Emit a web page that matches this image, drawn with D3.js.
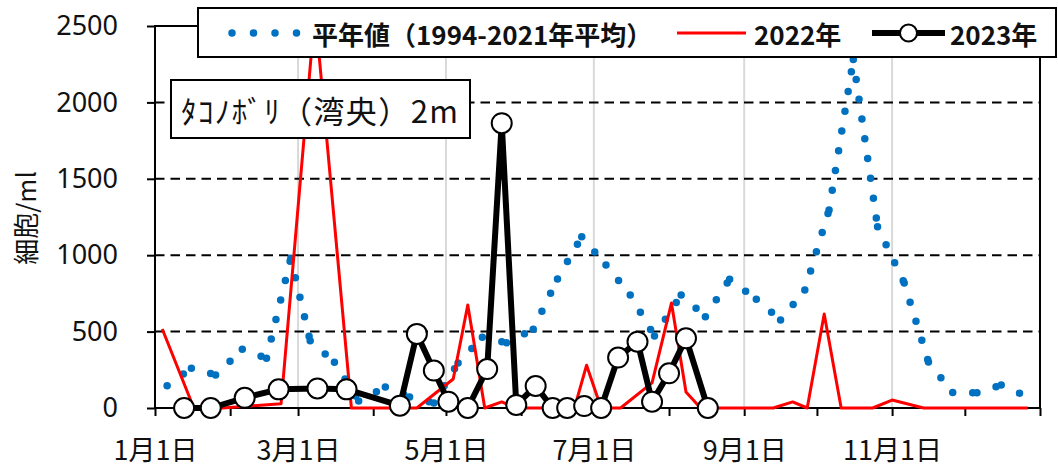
<!DOCTYPE html>
<html>
<head>
<meta charset="utf-8">
<script src="https://cdn.jsdelivr.net/npm/d3@7"></script>
<style>
  body { margin: 0; background: #fff; }
  text { font-family: "Noto Sans CJK JP", "Noto Sans", sans-serif; fill: #111; }
</style>
</head>
<body>
<div id="container"></div>
<script>
// 平年値 (1994-2021) - 旬ごとの平均
let meanDates = ["1/6","1/16","1/26","2/6","2/16","2/26","3/6","3/16","3/26","4/6","4/16","4/26",
                 "5/6","5/16","5/26","6/6","6/16","6/26","7/6","7/16","7/26","8/6","8/16","8/26",
                 "9/6","9/16","9/26","10/6","10/16","10/26","11/6","11/16","11/26","12/6","12/16","12/26"];
let meanValues = [146,260,216,384,325,980,440,300,46,137,72,33,
                  295,463,427,515,845,1121,936,740,471,740,598,842,
                  711,576,772,1296,2280,1187,818,301,101,100,150,80];

// 2022年
let dates2022 = ["1/4","1/17","1/29","2/22","3/8","3/23","4/19","5/4","5/10","5/17","5/24","5/30",
                 "6/23","6/28","7/4","7/12","7/25","8/2","8/8","8/14","9/13","9/21","9/27",
                 "10/4","10/11","10/24","11/1","11/14","12/27"];
let values2022 = [517,0,0,28,2600,0,0,190,674,0,40,0,
                  0,280,0,0,164,687,105,0,0,40,0,
                  615,0,0,52,0,0];

// 2023年
let dates2023 = ["1/13","1/24","2/7","2/21","3/9","3/21","4/12","4/19","4/26","5/2","5/10","5/18",
                 "5/24","5/30","6/7","6/14","6/20","6/27","7/4","7/11","7/19","7/25","8/1","8/8","8/17"];
let values2023 = [0,0,67,122,128,122,15,485,245,41,0,255,
                  1864,20,144,0,0,13,0,330,434,41,227,456,0];

let yTicks = [0,500,1000,1500,2000,2500];

let parse = d3.timeParse("%Y/%m/%d");
let toDate = s => parse("2023/" + s);

let meanData = meanDates.map((d,i) => ({date: toDate(d), value: meanValues[i]}));
let data2022 = dates2022.map((d,i) => ({date: toDate(d), value: values2022[i]}));
let data2023 = dates2023.map((d,i) => ({date: toDate(d), value: values2023[i]}));

let svg = d3.select('#container')
            .append('svg')
            .attr("width", 1058)
            .attr("height", 469);

let plotL = 155, plotR = 1040, plotT = 26, plotB = 408;

let x = d3.scaleTime()
          .domain([new Date(2023,0,1), new Date(2024,0,1)])
          .range([plotL, plotR]);
let y = d3.scaleLinear()
          .domain([0, 2500])
          .range([plotB, plotT]);

svg.append("clipPath").attr("id", "plotClip")
   .append("rect")
   .attr("x", plotL).attr("y", plotT)
   .attr("width", plotR - plotL).attr("height", plotB - plotT + 12);

// vertical grid (labelled months)
let monthTicks = d3.timeMonth.range(new Date(2023,0,1), new Date(2024,0,2));
svg.selectAll(".vgrid")
   .data(monthTicks.filter(d => d.getFullYear() === 2023 && d.getMonth() % 2 === 0 && d.getMonth() > 0))
   .enter()
   .append("line")
   .attr("x1", d => x(d)).attr("x2", d => x(d))
   .attr("y1", plotT).attr("y2", plotB)
   .attr("stroke", "#d9d9d9")
   .attr("stroke-width", 2);

// horizontal dashed grid
svg.selectAll(".hgrid")
   .data(yTicks.filter(v => v > 0 && v < 2500))
   .enter()
   .append("line")
   .attr("x1", plotL).attr("x2", plotR)
   .attr("y1", d => y(d)).attr("y2", d => y(d))
   .attr("stroke", "#000")
   .attr("stroke-width", 2)
   .attr("stroke-dasharray", "9.5 6");

// axes
let yAxis = svg.append("g")
   .attr("transform", `translate(${plotL},0)`)
   .call(d3.axisLeft(y).tickValues(yTicks).tickSize(8).tickPadding(29).tickFormat(d3.format("d")));
yAxis.select(".domain").remove();
yAxis.selectAll("line").attr("stroke", "#000").attr("stroke-width", 2);
yAxis.selectAll("text").attr("font-size", 27).attr("fill", "#111")
     .style("font-family", "'Noto Sans', sans-serif");

let xAxis = svg.append("g")
   .attr("transform", `translate(0,${plotB})`)
   .call(d3.axisBottom(x)
          .tickValues(monthTicks)
          .tickSize(8)
          .tickFormat(d => (d.getFullYear() === 2023 && d.getMonth() % 2 === 0) ? (d.getMonth() + 1) + "月1日" : ""));
xAxis.select(".domain").remove();
xAxis.selectAll("line").attr("stroke", "#000").attr("stroke-width", 2);
xAxis.selectAll("text").attr("font-size", 27).attr("fill", "#111")
     .attr("y", 43).attr("dy", "0.35em");

// plot border
svg.append("rect")
   .attr("x", plotL).attr("y", plotT)
   .attr("width", plotR - plotL).attr("height", plotB - plotT)
   .attr("fill", "none")
   .attr("stroke", "#000")
   .attr("stroke-width", 2);

// y title
svg.append("text")
   .attr("transform", "translate(24,218) rotate(-90)")
   .attr("text-anchor", "middle")
   .attr("dominant-baseline", "central")
   .attr("font-size", 26)
   .attr("fill", "#333")
   .text("細胞/ml");

let line = d3.line().x(d => x(d.date)).y(d => y(d.value));

// 平年値 dotted, each segment restarts its dot pattern
let plot = svg.append("g").attr("clip-path", "url(#plotClip)");
plot.selectAll(".meanSeg")
    .data(d3.pairs(meanData))
    .enter()
    .append("path")
    .attr("d", d => line(d))
    .attr("fill", "none")
    .attr("stroke", "#0070c0")
    .attr("stroke-width", 7.5)
    .attr("stroke-linecap", "round")
    .attr("stroke-dasharray", "0 20");

// 2022
plot.append("path")
    .datum(data2022)
    .attr("d", line)
    .attr("fill", "none")
    .attr("stroke", "#ff0000")
    .attr("stroke-width", 3)
    .attr("stroke-linejoin", "round");

// 2023
plot.append("path")
    .datum(data2023)
    .attr("d", line)
    .attr("fill", "none")
    .attr("stroke", "#000")
    .attr("stroke-width", 6)
    .attr("stroke-linejoin", "round");

svg.selectAll(".m2023")
   .data(data2023)
   .enter()
   .append("circle")
   .attr("cx", d => x(d.date))
   .attr("cy", d => y(d.value))
   .attr("r", 10)
   .attr("fill", "#fff")
   .attr("stroke", "#000")
   .attr("stroke-width", 2);

// legend
let legend = svg.append("g");
legend.append("rect")
      .attr("x", 198).attr("y", 8)
      .attr("width", 858).attr("height", 49)
      .attr("fill", "#fff")
      .attr("stroke", "#000")
      .attr("stroke-width", 2);
legend.append("line")
      .attr("x1", 232).attr("x2", 298)
      .attr("y1", 33).attr("y2", 33)
      .attr("stroke", "#0070c0")
      .attr("stroke-width", 7.5)
      .attr("stroke-linecap", "round")
      .attr("stroke-dasharray", "0 21.5");
legend.append("text")
      .attr("x", 312).attr("y", 33)
      .attr("dominant-baseline", "central")
      .attr("font-size", 26).attr("font-weight", "bold")
      .text("平年値（1994-2021年平均）");
legend.append("line")
      .attr("x1", 677).attr("x2", 746)
      .attr("y1", 33).attr("y2", 33)
      .attr("stroke", "#ff0000")
      .attr("stroke-width", 3);
legend.append("text")
      .attr("x", 754).attr("y", 33)
      .attr("dominant-baseline", "central")
      .attr("font-size", 26).attr("font-weight", "bold")
      .text("2022年");
legend.append("line")
      .attr("x1", 872).attr("x2", 945)
      .attr("y1", 33).attr("y2", 33)
      .attr("stroke", "#000")
      .attr("stroke-width", 6);
legend.append("circle")
      .attr("cx", 908.5).attr("cy", 33)
      .attr("r", 8.5)
      .attr("fill", "#fff")
      .attr("stroke", "#000")
      .attr("stroke-width", 2);
legend.append("text")
      .attr("x", 950).attr("y", 33)
      .attr("dominant-baseline", "central")
      .attr("font-size", 26).attr("font-weight", "bold")
      .text("2023年");

// station box
svg.append("rect")
   .attr("x", 171).attr("y", 80)
   .attr("width", 299).attr("height", 58)
   .attr("fill", "#fff")
   .attr("stroke", "#000")
   .attr("stroke-width", 2);
svg.append("text")
   .attr("x", 181).attr("y", 109)
   .attr("dominant-baseline", "central")
   .attr("font-size", 31)
   .attr("textLength", 277)
   .attr("lengthAdjust", "spacing")
   .text("ﾀｺﾉﾎﾞﾘ（湾央）2m");
</script>
</body>
</html>
